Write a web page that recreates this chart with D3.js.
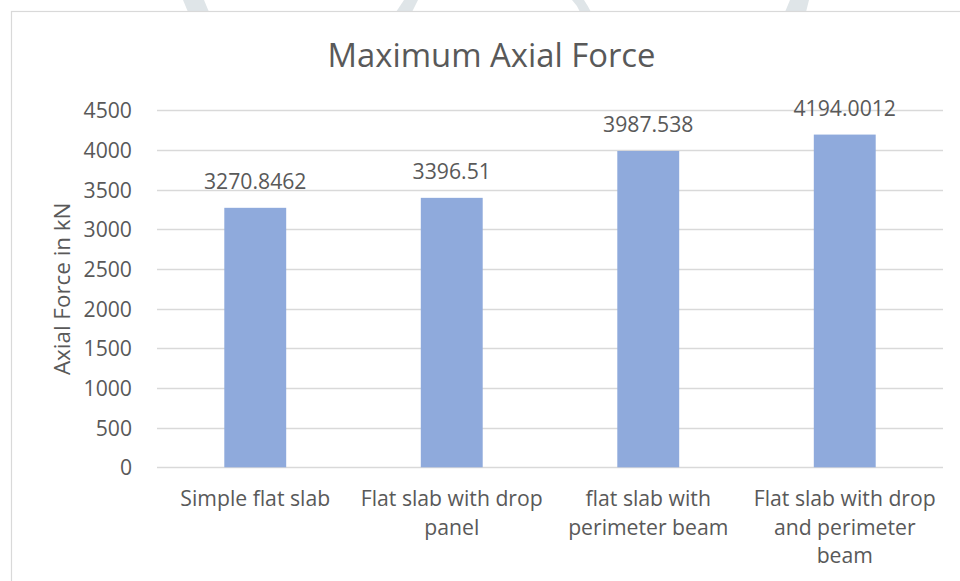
<!DOCTYPE html>
<html>
<head>
<meta charset="utf-8">
<script src="https://cdn.jsdelivr.net/npm/d3@7"></script>
<style>
  html, body { margin: 0; padding: 0; background: #ffffff; }
  svg { display: block; }
  text { font-family: "Open Sans", sans-serif; fill: #595959; }
</style>
</head>
<body>
<svg id="chart" width="960" height="581"></svg>
<script>
// Chart content
const chartTitle = "Maximum Axial Force";
const yAxisTitle = "Axial Force in kN";
const categories = [
  "Simple flat slab",
  "Flat slab with drop panel",
  "flat slab with perimeter beam",
  "Flat slab with drop and perimeter beam"
];
const categoryLines = [
  ["Simple flat slab"],
  ["Flat slab with drop", "panel"],
  ["flat slab with", "perimeter beam"],
  ["Flat slab with drop", "and perimeter", "beam"]
];
const axialForce = [3270.8462, 3396.51, 3987.538, 4194.0012];
const valueLabels = ["3270.8462", "3396.51", "3987.538", "4194.0012"];
const yTicks = [0, 500, 1000, 1500, 2000, 2500, 3000, 3500, 4000, 4500];

const svg = d3.select("#chart");
const FONT = "'Open Sans', sans-serif";
const LABEL_SIZE = 21.2;

// Faint background emblem peeking above the chart frame
const emblem = svg.append("g").attr("fill", "#dfe5e8");
emblem.append("path").attr("d", "M183,0 L204,0 L209,12 L188,12 Z");
emblem.append("path").attr("d", "M396,12 L404,0 L418,0 L412,12 Z");
emblem.append("path").attr("d", "M572,0 L584,0 Q588,6 591,12 L580,12 Q577,5 572,0 Z");
emblem.append("path").attr("d", "M790,0 L809,0 L806,12 L785,12 Z");

// Chart frame
svg.append("rect")
  .attr("x", 11.5).attr("y", 11.5)
  .attr("width", 960).attr("height", 600)
  .attr("fill", "#ffffff")
  .attr("stroke", "#d9d9d9").attr("stroke-width", 1.2);

const plot = { left: 157, right: 943, top: 110.3, bottom: 467.3 };

const x = d3.scaleBand()
  .domain(categories)
  .range([plot.left, plot.right])
  .paddingInner(0.685)
  .paddingOuter(0.3425);

const y = d3.scaleLinear()
  .domain([0, 4500])
  .range([plot.bottom, plot.top]);

// Gridlines
svg.append("g")
  .selectAll("line")
  .data(yTicks)
  .join("line")
  .attr("x1", plot.left).attr("x2", plot.right)
  .attr("y1", d => Math.round(y(d)) + 0.5)
  .attr("y2", d => Math.round(y(d)) + 0.5)
  .attr("stroke", "#d9d9d9")
  .attr("stroke-width", 1.3);

// Y axis labels
const yAxis = d3.axisLeft(y)
  .tickValues(yTicks)
  .tickFormat(d3.format("d"))
  .tickSize(0)
  .tickPadding(0);
const yG = svg.append("g")
  .attr("transform", `translate(${plot.left - 25},0)`)
  .call(yAxis);
yG.select(".domain").remove();
yG.selectAll("text")
  .attr("font-size", LABEL_SIZE)
  .attr("font-family", FONT)
  .attr("fill", "#595959")
  .attr("dy", "0.35em");

// Bars
svg.append("g")
  .selectAll("rect")
  .data(axialForce)
  .join("rect")
  .attr("x", (d, i) => x(categories[i]))
  .attr("width", x.bandwidth())
  .attr("y", d => y(d))
  .attr("height", d => plot.bottom - y(d))
  .attr("fill", "#8faadc");

// Value labels
svg.append("g")
  .selectAll("text")
  .data(axialForce)
  .join("text")
  .attr("x", (d, i) => x(categories[i]) + x.bandwidth() / 2)
  .attr("y", d => y(d) - 19)
  .attr("text-anchor", "middle")
  .attr("font-size", LABEL_SIZE)
  .text((d, i) => valueLabels[i]);

// Category labels
const catG = svg.append("g");
categoryLines.forEach((lines, i) => {
  const cx = x(categories[i]) + x.bandwidth() / 2;
  const t = catG.append("text")
    .attr("x", cx)
    .attr("y", 506)
    .attr("text-anchor", "middle")
    .attr("font-size", LABEL_SIZE);
  lines.forEach((ln, j) => {
    t.append("tspan").attr("x", cx).attr("dy", j === 0 ? 0 : 28.6).text(ln);
  });
});

// Titles
svg.append("text")
  .attr("x", 491.5).attr("y", 67)
  .attr("text-anchor", "middle")
  .attr("font-size", 32.8)
  .text(chartTitle);

svg.append("text")
  .attr("transform", `translate(70,${(plot.top + plot.bottom) / 2}) rotate(-90)`)
  .attr("text-anchor", "middle")
  .attr("font-size", 22.4)
  .text(yAxisTitle);
</script>
</body>
</html>
